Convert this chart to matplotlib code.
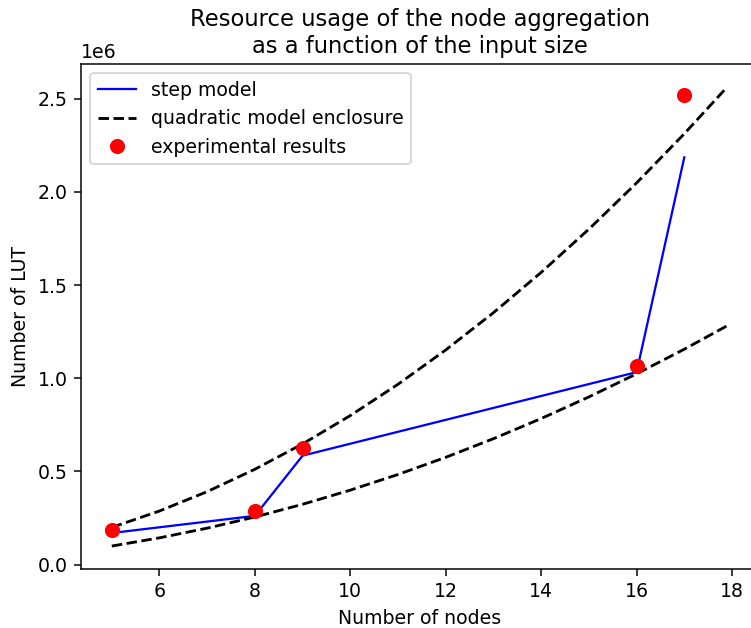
import numpy as np
import matplotlib
matplotlib.use("Agg")
import matplotlib.pyplot as plt

# step model (nodes -> LUT)
step_nodes = [5, 8, 9, 16, 17]
step_lut = [0.170e6, 0.262e6, 0.585e6, 1.033e6, 2.185e6]

# measured points
exp_nodes = [5, 8, 9, 16, 17]
exp_lut = [0.188e6, 0.288e6, 0.625e6, 1.065e6, 2.520e6]

# quadratic enclosure
quad_nodes = [5, 6, 7, 8, 9, 10, 11, 12, 13, 14, 15, 16, 17, 17.9]
quad_upper = [0.200e6, 0.288e6, 0.392e6, 0.512e6, 0.648e6, 0.800e6, 0.968e6,
              1.152e6, 1.352e6, 1.568e6, 1.800e6, 2.048e6, 2.312e6, 2.563e6]
quad_lower = [0.100e6, 0.144e6, 0.196e6, 0.256e6, 0.324e6, 0.400e6, 0.484e6,
              0.576e6, 0.676e6, 0.784e6, 0.900e6, 1.024e6, 1.156e6, 1.282e6]

DPI = 136
fig = plt.figure(figsize=(751 / DPI, 628 / DPI), dpi=DPI)
ax = fig.add_axes([81 / 751, 1 - 569 / 628, (758 - 81) / 751, (569 - 64) / 628])

ax.plot(step_nodes, step_lut, color="blue", linewidth=1.2, label="step model")
ax.plot(quad_nodes, quad_upper, "k--", label="quadratic model enclosure")
ax.plot(quad_nodes, quad_lower, "k--")
ax.plot(exp_nodes, exp_lut, "ro", markersize=7, label="experimental results")

ax.set_title("Resource usage of the node aggregation\nas a function of the input size")
ax.set_xlabel("Number of nodes")
ax.set_ylabel("Number of LUT")
ax.set_xticks([6, 8, 10, 12, 14, 16, 18])
ax.legend(loc="upper left")

fig.savefig("out.png", dpi=DPI)
